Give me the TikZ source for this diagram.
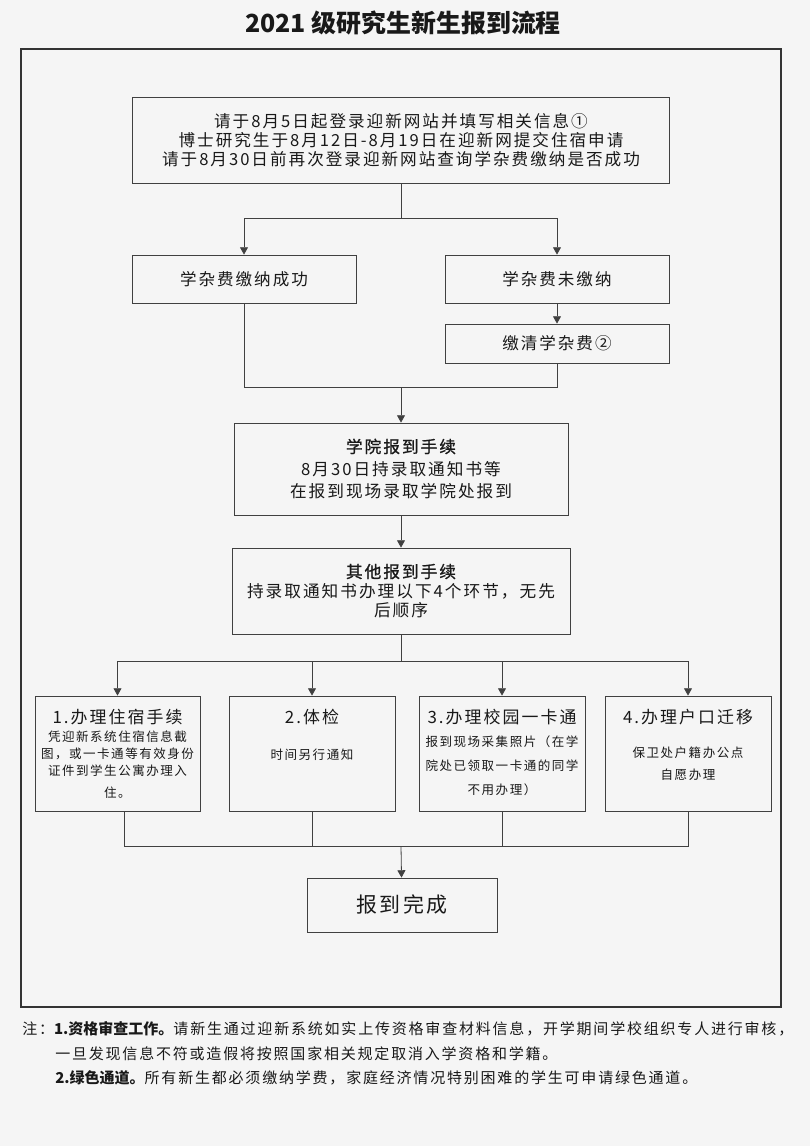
\documentclass[tikz,border=0pt]{standalone}
\usepackage{fontspec}
\setmainfont{Noto Sans CJK SC}[LetterSpace=12]
\newfontfamily\titlefont{Noto Sans CJK SC}
\newfontfamily\headfont{Noto Sans CJK SC}[LetterSpace=12, FakeBold=1]
\usetikzlibrary{arrows.meta}

\begin{document}
\begin{tikzpicture}[x=0.75pt, y=-0.75pt, >={Triangle[length=5.5pt,width=6pt]},
  every node/.style={text=black!90, inner sep=0pt},
  box/.style={draw=black!75, line width=0.6pt, align=center},
  conn/.style={draw=black!75, line width=0.6pt},
  fee/.style={minimum width=168pt, minimum height=36pt, font=\fontsize{12.4pt}{14pt}\selectfont},
  item/.style={box, minimum width=124.5pt, minimum height=86.25pt},
  hd/.style={font=\fontsize{12.7pt}{14pt}\selectfont},
  tx/.style={align=center, font=\fontsize{9.4pt}{12.75pt}\selectfont},
  note/.style={font=\fontsize{11.25pt}{14pt}\selectfont}]
\fill[black!4] (0,0) rectangle (810,1146);
\useasboundingbox (0,0) rectangle (810,1146);

% Title and frame
\node[font=\titlefont\bfseries\fontsize{18.7pt}{20pt}\selectfont] (title) at (403,23) {2021 级研究生新生报到流程};
\draw[black!80, line width=0.8pt] (21,49) rectangle (781,1007);

% Online registration
\node[box, minimum width=402.75pt, minimum height=64.5pt, font=\fontsize{12.45pt}{14pt}\selectfont] (login) at (401,140)
  {请于8月5日起登录迎新网站并填写相关信息①\\博士研究生于8月12日-8月19日在迎新网提交住宿申请\\请于8月30日前再次登录迎新网站查询学杂费缴纳是否成功};

% Fee status
\coordinate (split) at (401,218);
\node[box, fee] (paid) at (244,279) {学杂费缴纳成功};
\node[box, fee] (unpaid) at (557,279) {学杂费未缴纳};
\node[box, fee, minimum height=29.25pt] (payfee) at (557,343.5) {缴清学杂费②};

% College registration
\coordinate (merge) at (401,387);
\node[box, minimum width=250.5pt, minimum height=69pt, font=\fontsize{12.5pt}{16.9pt}\selectfont] (college) at (401,469)
  {{\headfont 学院报到手续}\\8月30日持录取通知书等\\在报到现场录取学院处报到};

% Other procedures
\node[box, minimum width=253.5pt, minimum height=64.5pt, font=\fontsize{12.5pt}{14.6pt}\selectfont] (other) at (401,591)
  {{\headfont 其他报到手续}\\持录取通知书办理以下4个环节，无先\\后顺序};
\coordinate (branch) at (401,661);

% Four steps, no fixed order
\node[item, minimum width=123.75pt] (dorm) at (117.5,753.5) {};
\node[item] (exam) at (312,753.5) {};
\node[item] (card) at (502,753.5) {};
\node[item] (hukou) at (688,753.5) {};
\node[hd] (dormhd) at (117.5,717) {1.办理住宿手续};
\node[hd] (examhd) at (312,717) {2.体检};
\node[hd] (cardhd) at (502,717) {3.办理校园一卡通};
\node[hd] (hukouhd) at (688,717) {4.办理户口迁移};
\node[tx] (dormtx) at (117.5,764.5) {凭迎新系统住宿信息截\\图，或一卡通等有效身份\\证件到学生公寓办理入\\[3.75pt]住。};
\node[tx] (examtx) at (312,755) {时间另行通知};
\node[tx] (cardtx) at (502,766) {报到现场采集照片（在学\\[5.25pt]院处已领取一卡通的同学\\[5.25pt]不用办理）};
\node[tx] (hukoutx) at (688,764) {保卫处户籍办公点\\[3.75pt]自愿办理};

% Finish
\coordinate (join) at (401,846);
\node[box, minimum width=142.5pt, minimum height=40.5pt, font=\fontsize{15.7pt}{17pt}\selectfont] (done) at (402,905) {报到完成};

% Connectors
\draw[conn] (login) -- (split);
\draw[conn, ->] (split) -| (paid);
\draw[conn, ->] (split) -| (unpaid);
\draw[conn, ->] (unpaid) -- (payfee);
\draw[conn] (paid) |- (merge);
\draw[conn] (payfee) |- (merge);
\draw[conn, ->] (merge) -- (college);
\draw[conn, ->] (college) -- (other);
\draw[conn] (other) -- (branch);
\draw[conn, ->] (branch) -| (dorm);
\draw[conn, ->] (branch) -| (exam);
\draw[conn, ->] (branch) -| (card);
\draw[conn, ->] (branch) -| (hukou);
\draw[conn] ([xshift=4.9pt]dorm.south) |- (join);
\draw[conn] (exam) |- (join);
\draw[conn] (card) |- (join);
\draw[conn] (hukou) |- (join);
\draw[conn, ->] (join) -- (done);

% Notes below the frame
\node[note, anchor=west] (note1) at (22,1029) {注：{\titlefont\bfseries 1.资格审查工作。}请新生通过迎新系统如实上传资格审查材料信息，开学期间学校组织专人进行审核，};
\node[note, anchor=west] (note2) at (55,1054) {一旦发现信息不符或造假将按照国家相关规定取消入学资格和学籍。};
\node[note, anchor=west] (note3) at (55,1078) {{\titlefont\bfseries 2.绿色通道。}所有新生都必须缴纳学费，家庭经济情况特别困难的学生可申请绿色通道。};
\end{tikzpicture}
\end{document}
